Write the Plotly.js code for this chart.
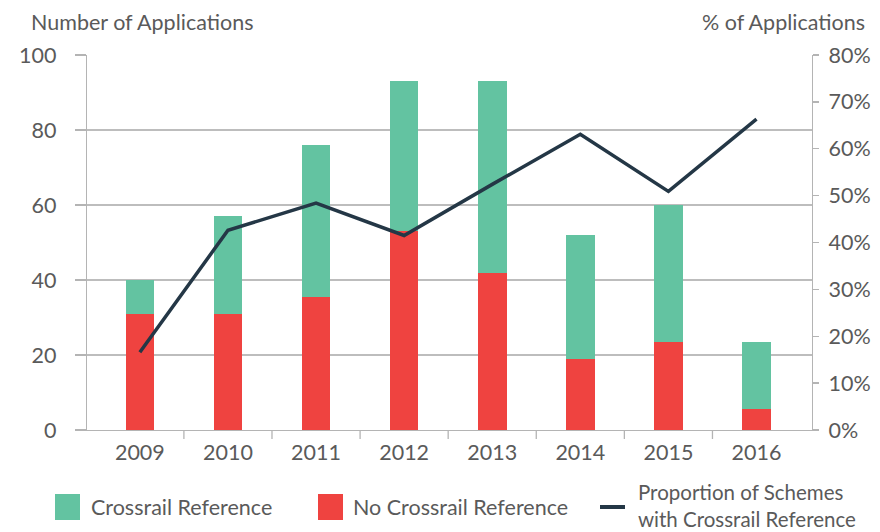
<!DOCTYPE html>
<html>
<head>
<meta charset="utf-8">
<script src="https://cdn.plot.ly/plotly-3.0.1.min.js"></script>
<style>html,body{margin:0;padding:0;background:#fff;}#chart{width:880px;height:532px;}</style>
</head>
<body>
<div id="chart"></div>
<script>
// ---- Data ----
const years = ['2009', '2010', '2011', '2012', '2013', '2014', '2015', '2016'];
const noCrossrail = [31, 31, 35.5, 53, 42, 19, 23.5, 5.5];
const crossrail = [9, 26, 40.5, 40, 51, 33, 36.5, 18];
const proportion = [0.166, 0.426, 0.484, 0.415, 0.524, 0.631, 0.509, 0.663];
const leftTicks = [0, 20, 40, 60, 80, 100];
const rightTicks = [0, 0.1, 0.2, 0.3, 0.4, 0.5, 0.6, 0.7, 0.8];

// ---- Style ----
const GREEN = '#63C3A1';
const RED = '#EF4340';
const NAVY = '#243746';
const TEXT = '#5a5a5a';
const AXIS = '#b4b4b4';
const FONT = 'Lato, "Open Sans", sans-serif';
const FS = 21.5;

const L = 87, R = 812, T = 55, B = 430;
const W = 880, H = 532;
const px = x => (x - L) / (R - L);
const py = y => (B - y) / (B - T);

const traces = [
  {type: 'bar', x: years, y: noCrossrail, name: 'No Crossrail Reference',
   marker: {color: RED}, hoverinfo: 'x+y+name'},
  {type: 'bar', x: years, y: crossrail, name: 'Crossrail Reference',
   marker: {color: GREEN}, hoverinfo: 'x+y+name'},
  {type: 'scatter', mode: 'lines', x: years, y: proportion, yaxis: 'y2',
   name: 'Proportion of Schemes with Crossrail Reference',
   line: {color: NAVY, width: 3.5}}
];

const shapes = [];
// category boundary ticks (interior only)
for (let i = 0; i < years.length - 1; i++) {
  shapes.push({type: 'line', xref: 'x', yref: 'paper', x0: i + 0.5, x1: i + 0.5,
    y0: 0, y1: py(439), line: {color: AXIS, width: 1.3}});
}
// legend swatches
shapes.push({type: 'rect', xref: 'paper', yref: 'paper', x0: px(55), x1: px(80), y0: py(520), y1: py(494),
  fillcolor: GREEN, line: {width: 0}});
shapes.push({type: 'rect', xref: 'paper', yref: 'paper', x0: px(318), x1: px(343), y0: py(520), y1: py(494),
  fillcolor: RED, line: {width: 0}});
shapes.push({type: 'line', xref: 'paper', yref: 'paper', x0: px(600), x1: px(625), y0: py(507), y1: py(507),
  line: {color: NAVY, width: 4}});

const ann = (text, x, y, xanchor, size) => ({
  text: text, xref: 'paper', yref: 'paper', x: px(x), y: py(y), xanchor: xanchor, yanchor: 'middle',
  showarrow: false, align: 'left', font: {family: FONT, size: size || FS, color: TEXT}
});

const annotations = [
  ann('Number of Applications', 29, 22, 'left'),
  ann('% of Applications', 867, 22, 'right'),
  ann('Crossrail Reference', 89, 507, 'left'),
  ann('No Crossrail Reference', 351, 507, 'left'),
  ann('Proportion of Schemes<br>with Crossrail Reference', 636, 505, 'left', 20.5)
];

const layout = {
  width: W, height: H,
  margin: {l: L, r: W - R, t: T, b: H - B, pad: 0},
  paper_bgcolor: '#fff', plot_bgcolor: '#fff',
  barmode: 'stack', bargap: 0.675,
  showlegend: false,
  font: {family: FONT, size: FS, color: TEXT},
  xaxis: {
    type: 'category', range: [-0.6, 7.63],
    showline: true, linecolor: AXIS, linewidth: 1.3,
    ticks: '', showgrid: false, zeroline: false,
    tickfont: {family: FONT, size: FS, color: TEXT},
    ticklabelstandoff: 3
  },
  yaxis: {
    range: [0, 100], tickvals: leftTicks, ticktext: leftTicks.map(String),
    showline: true, linecolor: AXIS, linewidth: 1.3,
    ticks: 'outside', ticklen: 11, tickcolor: AXIS, tickwidth: 1.3,
    showgrid: true, gridcolor: '#bdbdbd', gridwidth: 1.3, zeroline: false,
    tickfont: {family: FONT, size: FS, color: TEXT},
    ticklabelstandoff: 14
  },
  yaxis2: {
    overlaying: 'y', side: 'right', range: [0, 0.8],
    tickvals: rightTicks, ticktext: rightTicks.map(v => Math.round(v * 100) + '%'),
    showline: true, linecolor: AXIS, linewidth: 1.3,
    ticks: 'outside', ticklen: 6, tickcolor: AXIS, tickwidth: 1.3,
    showgrid: false, zeroline: false,
    tickfont: {family: FONT, size: FS, color: TEXT},
    ticklabelstandoff: 5
  },
  shapes: shapes,
  annotations: annotations
};

Plotly.newPlot('chart', traces, layout, {displayModeBar: false, staticPlot: true});
</script>
</body>
</html>
